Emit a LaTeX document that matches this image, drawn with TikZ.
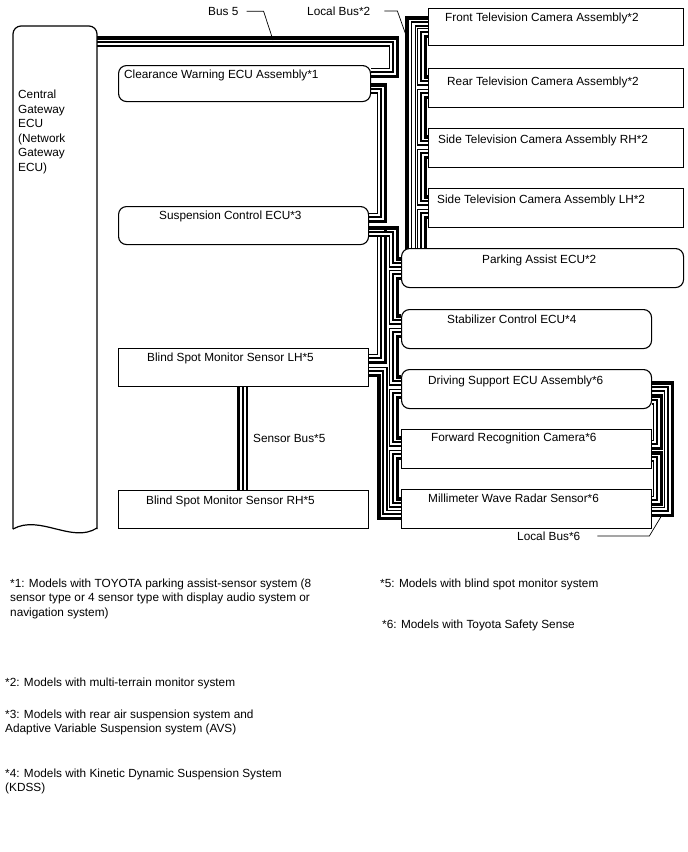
\documentclass[tikz,border=0pt]{standalone}
\usepackage{fontspec}
\setmainfont{Liberation Sans}
\usetikzlibrary{calc}
\pgfdeclarelayer{wires}
\pgfsetlayers{wires,main}
% one bus = thick wire + hollow wire; #6 #7 #8 = side of the thick wire on each leg
\newcommand{\buspair}[8]{%
  \draw[busB] (#1 |- 0,{#2+3.3*(#6)}) -| ({#3+3.3*(#7)},{#4+3.3*(#8)}) -- (#5 |- 0,{#4+3.3*(#8)});
  \draw[busH] (#1 |- 0,{#2-2.9*(#6)}) -| ({#3-2.9*(#7)},{#4-2.9*(#8)}) -- (#5 |- 0,{#4-2.9*(#8)});
}

\begin{document}
\begin{tikzpicture}[x=1pt, y=-1pt,
  box/.style={draw, fill=white, line width=1.1pt, inner sep=0pt, anchor=north west},
  rbox/.style={box, rounded corners=8pt},
  lbl/.style={anchor=base west, inner sep=0pt, font=\fontsize{11.8}{14.5}\selectfont},
  note/.style={lbl, align=left},
  busB/.style={line width=3.6pt, line join=miter},
  busH/.style={line width=1.3pt, double=white, double distance=2.6pt, line join=miter},
  lead/.style={line width=0.7pt},
]
\useasboundingbox (0,0) rectangle (688,852);

% gateway
\draw[line width=1.2pt, rounded corners=8pt] (13,529) -- (13,26) -- (97,26) -- (97,529);
\draw[line width=1.2pt] (97,528) .. controls (72,544) and (40,514) .. (13,529);
\node[note] (cgw) at (18,171)
  {Central\\Gateway\\ECU\\(Network\\Gateway\\ECU)};
\coordinate (gwport) at (97,0);

% ECUs
\node[rbox, minimum width=252pt, minimum height=36pt] (clw) at (118,65) {};
\node[rbox, minimum width=250pt, minimum height=38pt] (susp) at (118,206) {};
\node[box, minimum width=250pt, minimum height=38pt] (bsml) at (118,348) {};
\node[box, minimum width=250pt, minimum height=38pt] (bsmr) at (118,490) {};
\node[box, minimum width=255pt, minimum height=37pt] (ftv) at (428,8) {};
\node[box, minimum width=255pt, minimum height=39pt] (rtv) at (428,68) {};
\node[box, minimum width=255pt, minimum height=39pt] (stvr) at (428,128) {};
\node[box, minimum width=255pt, minimum height=39pt] (stvl) at (428,188) {};
\node[rbox, minimum width=282pt, minimum height=39pt] (pa) at (401,248) {};
\node[rbox, minimum width=250pt, minimum height=39pt] (stab) at (401,309) {};
\node[rbox, minimum width=250pt, minimum height=39pt] (dsu) at (401,369) {};
\node[box, minimum width=250pt, minimum height=39pt] (frc) at (401,429) {};
\node[box, minimum width=250pt, minimum height=39pt] (mwr) at (401,489) {};

\node[lbl] (clw-t) at (124,78.5) {Clearance Warning ECU Assembly*1};
\node[lbl] (susp-t) at (159,219.2) {Suspension Control ECU*3};
\node[lbl] (bsml-t) at (147,361.2) {Blind Spot Monitor Sensor LH*5};
\node[lbl] (bsmr-t) at (146,504.5) {Blind Spot Monitor Sensor RH*5};
\node[lbl] (ftv-t) at (445,21.5) {Front Television Camera Assembly*2};
\node[lbl] (rtv-t) at (447,85.5) {Rear Television Camera Assembly*2};
\node[lbl] (stvr-t) at (438,143.5) {Side Television Camera Assembly RH*2};
\node[lbl] (stvl-t) at (437,203.5) {Side Television Camera Assembly LH*2};
\node[lbl] (pa-t) at (482,263.5) {Parking Assist ECU*2};
\node[lbl] (stab-t) at (447,323.5) {Stabilizer Control ECU*4};
\node[lbl] (dsu-t) at (428,384.5) {Driving Support ECU Assembly*6};
\node[lbl] (frc-t) at (431,441.8) {Forward Recognition Camera*6};
\node[lbl] (mwr-t) at (428,502.5) {Millimeter Wave Radar Sensor*6};

% buses
\begin{pgfonlayer}{wires}
% Bus 5
\buspair{gwport}{41}{394}{73}{clw.east}{-1}{1}{1}
\buspair{clw.east}{88}{382}{218}{susp.east}{-1}{1}{1}
\buspair{susp.east}{231}{382}{359}{bsml.east}{-1}{1}{1}
\buspair{susp.east}{231}{394}{262}{pa.west}{-1}{1}{-1}
\buspair{pa.west}{275}{394}{319}{stab.west}{1}{1}{-1}
\buspair{stab.west}{333}{394}{380}{dsu.west}{1}{1}{-1}
\buspair{dsu.west}{394}{394}{441}{frc.west}{1}{1}{-1}
\buspair{frc.west}{455}{394}{502}{mwr.west}{1}{1}{-1}
\buspair{mwr.west}{515}{382}{372}{bsml.east}{1}{-1}{1}
% Local Bus*2
\draw[busB] ([yshift=-4pt]407.2,0 |- pa.north) |- (ftv.west |- 0,17.7);
\draw[busH] ([yshift=-4pt]413.4,0 |- pa.north) |- (ftv.west |- 0,23.9);
\buspair{ftv.west}{33}{422}{80}{rtv.west}{1}{1}{-1}
\buspair{rtv.west}{94}{422}{140}{stvr.west}{1}{1}{-1}
\buspair{stvr.west}{154}{422}{200}{stvl.west}{1}{1}{-1}
\draw[busB] (stvl.west |- 0,217.3) -| ([yshift=-4pt]425.3,0 |- pa.north);
\draw[busH] (stvl.west |- 0,211.1) -| ([yshift=-4pt]419.1,0 |- pa.north);
% Local Bus*6
\buspair{dsu.east}{386}{669}{512}{mwr.east}{-1}{1}{1}
\buspair{dsu.east}{399}{658}{445}{frc.east}{-1}{1}{1}
\buspair{frc.east}{456}{658}{501}{mwr.east}{-1}{1}{1}
% Sensor Bus*5
\draw[busB] ([xshift=-5.2pt]bsml.south) -- ([xshift=-5.2pt]bsmr.north);
\draw[busH] ([xshift=1.5pt]bsml.south) -- ([xshift=1.5pt]bsmr.north);
\end{pgfonlayer}

% bus names
\node[lbl] (bus5-t) at (208,15.2) {Bus 5};
\node[lbl] (lb2-t) at (307,15.2) {Local Bus*2};
\node[lbl] (lb6-t) at (517,540.2) {Local Bus*6};
\node[lbl] (sbus-t) at (253,442.8) {Sensor Bus*5};
\coordinate (b5tap) at (273,40);
\coordinate (lb2tap) at (407,38);
\coordinate (lb6tap) at (662,515);
\draw[lead] ([xshift=8pt]bus5-t.east) -- ++(17,0) -- (b5tap);
\draw[lead] ([xshift=14pt]lb2-t.east) -- ++(13,0) -- (lb2tap);
\draw[lead] ([xshift=17pt]lb6-t.east) -- ++(52,0) -- (lb6tap);

% notes
\node[note] (fn1) at (10,616) {*1: Models with TOYOTA parking assist-sensor system (8\\sensor type or 4 sensor type with display audio system or\\navigation system)};
\node[note] (fn5) at (380,587) {*5: Models with blind spot monitor system};
\node[note] (fn6) at (382,628) {*6: Models with Toyota Safety Sense};
\node[note] (fn2) at (5,686) {*2: Models with multi-terrain monitor system};
\node[note] (fn3) at (5,732.5) {*3: Models with rear air suspension system and\\Adaptive Variable Suspension system (AVS)};
\node[note] (fn4) at (5,791.5) {*4: Models with Kinetic Dynamic Suspension System\\(KDSS)};
\end{tikzpicture}
\end{document}
